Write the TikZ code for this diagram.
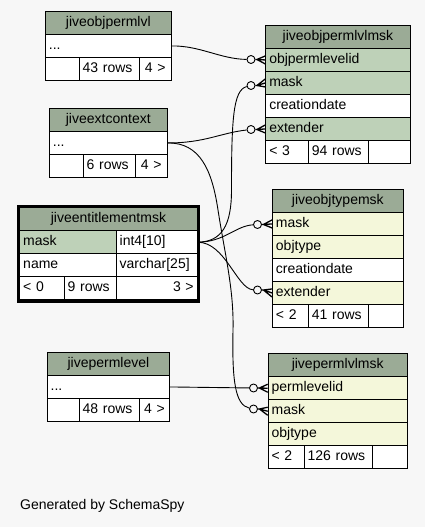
\documentclass[tikz,border=0pt]{standalone}
\usepackage{fontspec}
\setmainfont{Liberation Sans}
\usetikzlibrary{fit}
\definecolor{bggray}{HTML}{F7F7F7}
\definecolor{headgreen}{HTML}{9BAB96}
\definecolor{keygreen}{HTML}{BED1B8}
\definecolor{idxyellow}{HTML}{F4F7DA}
\tikzset{
  cell/.style={draw=black, line width=0.9pt, anchor=north west, inner xsep=3.5pt, inner ysep=0pt,
    minimum height=23pt, text height=10pt, text depth=3pt, text width=#1, align=left},
  hcell/.style={cell=#1, fill=headgreen, align=center},
  kcell/.style={cell=#1, fill=keygreen},
  icell/.style={cell=#1, fill=idxyellow},
  pcell/.style={cell=#1, fill=white},
  odot/.style={circle, draw=black, line width=0.9pt, fill=bggray, minimum size=8pt, inner sep=0pt},
  fk/.style={draw=black, line width=0.9pt},
  crowline/.style={draw=black, line width=1.3pt},
  frame/.style={draw=black, line width=2.6pt, inner sep=1.3pt}
}
\newcommand\crowfoot[2]{%
  \draw[crowline] (#1.east) -- ([xshift=1.5pt]#1.east) -- ([yshift=4pt]#2.west)
    ([xshift=1.5pt]#1.east) -- (#2.west)
    ([xshift=1.5pt]#1.east) -- ([yshift=-4pt]#2.west);}
\begin{document}
\begin{tikzpicture}[x=1pt, y=-1pt, font=\fontsize{14pt}{16pt}\selectfont]
	\fill[bggray] (0,0) rectangle (425,527);
	\useasboundingbox (0,0) rectangle (425,527);

	\node[hcell=118.7] (lvl-h)  at (45,11)      {jiveobjpermlvl};
	\node[pcell=118.7] (lvl-d)  at (45,34)      {...};
	\node[pcell=26.7]  (lvl-f1) at (45,57)      {};
	\node[pcell=53]    (lvl-f2) at (78.7,57)    {43 rows};
	\node[pcell=25, align=center] (lvl-f3) at (138.7,57) {4 >};

	\node[hcell=110.7] (ext-h)  at (49,108)     {jiveextcontext};
	\node[pcell=110.7] (ext-d)  at (49,131)     {...};
	\node[pcell=26.7]  (ext-f1) at (49,154)     {};
	\node[pcell=45.3]  (ext-f2) at (82.7,154)   {6 rows};
	\node[pcell=24.7, align=center] (ext-f3) at (135,154) {4 >};

	\node[hcell=137.4] (msk-h)    at (265.3,25)  {jiveobjpermlvlmsk};
	\node[kcell=137.4] (msk-id)   at (265.3,48)  {objpermlevelid};
	\node[kcell=137.4] (msk-mask) at (265.3,71)  {mask};
	\node[pcell=137.4] (msk-date) at (265.3,94)  {creationdate};
	\node[kcell=137.4] (msk-ext)  at (265.3,117) {extender};
	\node[pcell=35.7]  (msk-f1)   at (265.3,140) {< 3};
	\node[pcell=52.7]  (msk-f2)   at (308,140)   {94 rows};
	\node[pcell=35]    (msk-f3)   at (367.7,140) {};

	\node[hcell=170.4] (ent-h)     at (19.3,207.3)  {jiveentitlementmsk};
	\node[kcell=89.4]  (ent-mask)  at (19.3,230.3)  {mask};
	\node[pcell=74]    (ent-maskt) at (115.7,230.3) {int4[10]};
	\node[pcell=89.4]  (ent-name)  at (19.3,253.3)  {name};
	\node[pcell=74]    (ent-namet) at (115.7,253.3) {varchar[25]};
	\node[pcell=37.4]  (ent-f1)    at (19.3,276.3)  {< 0};
	\node[pcell=45]    (ent-f2)    at (63.7,276.3)  {9 rows};
	\node[pcell=74, align=right] (ent-f3) at (115.7,276.3) {3 >};
	\node[frame, fit=(ent-h)(ent-f3)] (ent) {};

	\node[hcell=123.7] (typ-h)    at (272,189) {jiveobjtypemsk};
	\node[icell=123.7] (typ-mask) at (272,212) {mask};
	\node[icell=123.7] (typ-obj)  at (272,235) {objtype};
	\node[pcell=123.7] (typ-date) at (272,258) {creationdate};
	\node[icell=123.7] (typ-ext)  at (272,281) {extender};
	\node[pcell=29]    (typ-f1)   at (272,304) {< 2};
	\node[pcell=53]    (typ-f2)   at (308,304) {41 rows};
	\node[pcell=27.7]  (typ-f3)   at (368,304) {};

	\node[hcell=115.6] (perm-h)  at (46.7,352)  {jivepermlevel};
	\node[pcell=115.6] (perm-d)  at (46.7,375)  {...};
	\node[pcell=25]    (perm-f1) at (46.7,398)  {};
	\node[pcell=53]    (perm-f2) at (78.7,398)  {48 rows};
	\node[pcell=23.6, align=center] (perm-f3) at (138.7,398) {4 >};

	\node[hcell=132]  (pm-h)    at (267.7,353.3) {jivepermlvlmsk};
	\node[icell=132]  (pm-id)   at (267.7,376.3) {permlevelid};
	\node[icell=132]  (pm-mask) at (267.7,399.3) {mask};
	\node[icell=132]  (pm-obj)  at (267.7,422.3) {objtype};
	\node[pcell=29]   (pm-f1)   at (267.7,445.3) {< 2};
	\node[pcell=61.3] (pm-f2)   at (303.7,445.3) {126 rows};
	\node[pcell=27.7] (pm-f3)   at (372,445.3)   {};

	\node[anchor=base west] (gen) at (16.7,509.3) {Generated by SchemaSpy};

	\node[odot] (o1) at (251,59.5)    {};
	\node[odot] (o2) at (251,85.5)    {};
	\node[odot] (o3) at (251,129.5)   {};
	\node[odot] (o4) at (257.5,224.5) {};
	\node[odot] (o5) at (257.5,290)   {};
	\node[odot] (o6) at (253.5,388)   {};
	\node[odot] (o7) at (253.5,409)   {};

	\draw[fk] (lvl-d.east) .. controls (200,45.5) and (220,59) .. (o1);
	\draw[fk] (ext-d.east) .. controls (205,143) and (220,133) .. (o3);
	\draw[fk] (ext-d.east) .. controls (200,142.5) and (212,170) .. (218,210)
	  .. controls (225,255) and (234,290) .. (233,330)
	  .. controls (232,380) and (235,405) .. (o7);
	\draw[fk] (ent-maskt.east) .. controls (222,241.8) and (231.5,225) .. (231.5,190)
	  .. controls (231.5,120) and (233,90) .. (o2);
	\draw[fk] (ent-maskt.east) .. controls (225,241.8) and (235,226) .. (o4);
	\draw[fk] (ent-maskt.east) .. controls (225,241.8) and (237,289) .. (o5);
	\draw[fk] (perm-d.east) -- (o6);

	\crowfoot{o1}{msk-id}
	\crowfoot{o2}{msk-mask}
	\crowfoot{o3}{msk-ext}
	\crowfoot{o4}{typ-mask}
	\crowfoot{o5}{typ-ext}
	\crowfoot{o6}{pm-id}
	\crowfoot{o7}{pm-mask}
\end{tikzpicture}
\end{document}
